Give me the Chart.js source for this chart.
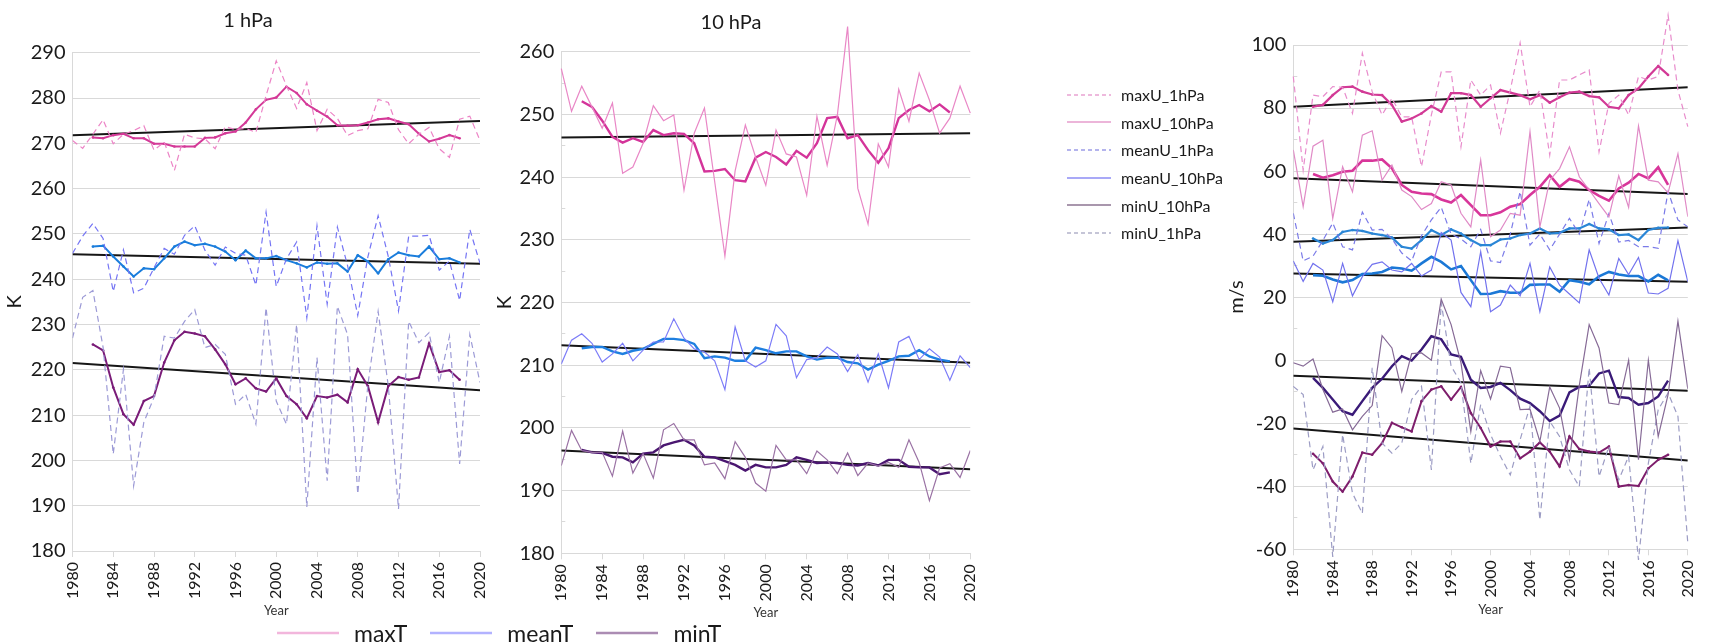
<!DOCTYPE html>
<html>
<head>
<meta charset="utf-8">
<title>Stratospheric temperature and wind, 1980-2020</title>
<script src="https://cdn.jsdelivr.net/npm/chart.js@4.4.1/dist/chart.umd.min.js"></script>
<style>
  html, body { margin: 0; padding: 0; background: #ffffff; }
  #wrap { position: relative; width: 1712px; height: 644px; overflow: hidden; font-family: Lato, 'Open Sans', sans-serif; color: #1a1a1a; }
  #wrap canvas { position: absolute; left: 0; top: 0; }
  .legend { position: absolute; }
  #legendT { left: 277px; top: 619px; display: flex; align-items: center; height: 28px; font-size: 23px; }
  #legendT .item { display: flex; align-items: center; margin-right: 23px; }
  #legendT svg { margin-right: 15px; }
  #legendU { left: 1067px; top: 81px; font-size: 16px; }
  #legendU .item { display: flex; align-items: center; height: 27.6px; }
  #legendU svg { margin-right: 10px; }
</style>
</head>
<body>
<div id="wrap">
  <canvas id="c1" width="1712" height="644"></canvas>
  <canvas id="c2" width="1712" height="644"></canvas>
  <canvas id="c3" width="1712" height="644"></canvas>
  <div id="legendT" class="legend"></div>
  <div id="legendU" class="legend"></div>
</div>
<script>
// ---------- years ----------
const years = [1980, 1981, 1982, 1983, 1984, 1985, 1986, 1987, 1988, 1989,
  1990, 1991, 1992, 1993, 1994, 1995, 1996, 1997, 1998, 1999,
  2000, 2001, 2002, 2003, 2004, 2005, 2006, 2007, 2008, 2009,
  2010, 2011, 2012, 2013, 2014, 2015, 2016, 2017, 2018, 2019, 2020];
// centred 5-year running means cover 1982-2018
const maYears = [1982, 1983, 1984, 1985, 1986, 1987, 1988, 1989,
  1990, 1991, 1992, 1993, 1994, 1995, 1996, 1997, 1998, 1999,
  2000, 2001, 2002, 2003, 2004, 2005, 2006, 2007, 2008, 2009,
  2010, 2011, 2012, 2013, 2014, 2015, 2016, 2017, 2018];
const trendYears = [1980, 2020];

// ---------- 1 hPa temperature (K) ----------
const p1_maxT = [270.6, 268.9, 272.0, 275.2, 269.9, 272.0, 272.8, 273.9, 268.5, 270.3,
  264.0, 272.0, 271.2, 271.0, 268.8, 273.7, 273.0, 273.3, 272.4, 280.5,
  288.2, 282.7, 277.7, 283.4, 272.8, 277.5, 275.5, 271.7, 272.8, 273.2,
  279.7, 279.0, 273.0, 269.9, 272.0, 273.5, 268.8, 266.9, 275.3, 276.0, 270.6];
const p1_maxT_ma = [271.3, 271.1, 271.8, 272.1, 271.1, 271.1, 269.9, 269.9,
  269.3, 269.3, 269.3, 271.2, 271.3, 272.2, 272.6, 274.6, 277.5, 279.6,
  280.1, 282.5, 281.1, 278.6, 277.2, 275.9, 274.0, 273.9, 274.0, 274.6,
  275.3, 275.5, 274.8, 274.2, 272.1, 270.4, 271.0, 271.8, 271.1];
const p1_maxT_trend = [271.8, 274.9];

const p1_meanT = [245.7, 249.5, 252.3, 249.0, 237.3, 246.5, 237.0, 238.0, 242.5, 246.8,
  245.5, 249.7, 251.8, 246.4, 243.1, 247.1, 245.7, 245.3, 238.7, 254.8,
  238.4, 244.5, 248.2, 231.5, 251.8, 234.5, 251.5, 243.0, 232.0, 245.0,
  254.0, 245.0, 233.0, 249.5, 249.5, 249.7, 242.0, 244.0, 235.3, 251.0, 243.5];
const p1_meanT_ma = [247.2, 247.4, 245.0, 242.8, 240.6, 242.4, 242.2, 244.6,
  247.2, 248.3, 247.5, 247.8, 247.2, 246.1, 244.2, 246.3, 244.6, 244.6,
  245.1, 244.2, 243.5, 242.6, 243.7, 243.4, 243.5, 241.7, 245.3, 243.9,
  241.3, 244.4, 245.9, 245.3, 245.0, 247.2, 244.4, 244.6, 243.7];
const p1_meanT_trend = [245.5, 243.4];

const p1_minT = [227.0, 236.0, 237.5, 225.0, 201.4, 220.1, 194.4, 208.4, 213.9, 227.4,
  227.0, 230.7, 233.3, 224.9, 225.6, 223.4, 212.4, 214.6, 208.0, 233.7,
  213.1, 208.0, 230.0, 189.7, 222.7, 195.5, 234.0, 227.8, 192.6, 216.8,
  232.9, 216.4, 189.3, 230.7, 226.0, 228.2, 217.2, 227.4, 199.2, 227.8, 217.2];
const p1_minT_ma = [225.6, 224.3, 216.1, 210.2, 207.9, 213.1, 214.2, 221.6,
  226.5, 228.4, 228.0, 227.4, 224.5, 221.2, 216.8, 218.1, 215.9, 215.2,
  218.1, 214.2, 212.4, 209.3, 214.2, 213.9, 214.5, 212.8, 220.1, 216.4,
  208.4, 216.4, 218.4, 217.8, 218.3, 225.8, 219.5, 219.9, 217.8];
const p1_minT_trend = [221.5, 215.5];

// ---------- 10 hPa temperature (K) ----------
const p2_maxT = [257.3, 250.5, 254.5, 251.2, 247.8, 251.8, 240.6, 241.6, 245.4, 251.4,
  249.0, 249.9, 237.9, 247.0, 251.0, 239.3, 227.4, 241.0, 248.3, 243.2,
  238.7, 247.5, 243.7, 243.2, 237.1, 249.7, 241.9, 249.9, 264.0, 238.2,
  232.5, 245.3, 241.6, 254.0, 248.9, 256.6, 252.3, 247.0, 249.4, 254.5, 250.2];
const p2_maxT_ma = [252.1, 251.2, 249.0, 246.4, 245.5, 246.2, 245.6, 247.5,
  246.7, 247.0, 246.9, 245.4, 240.9, 241.0, 241.3, 239.5, 239.3, 243.1,
  244.0, 243.2, 242.0, 244.2, 243.1, 245.4, 249.4, 249.6, 246.2, 246.7,
  244.3, 242.3, 244.6, 249.4, 250.7, 251.5, 250.5, 251.6, 250.3];
const p2_maxT_trend = [246.3, 247.0];

const p2_meanT = [210.2, 214.0, 215.0, 213.5, 210.5, 211.8, 213.5, 210.7, 212.4, 213.7,
  213.7, 217.4, 214.3, 212.6, 212.1, 210.7, 206.1, 216.1, 210.7, 209.7,
  210.7, 216.5, 214.7, 208.0, 210.9, 211.2, 212.9, 211.8, 209.0, 211.7,
  207.3, 211.8, 206.4, 213.7, 214.6, 210.9, 212.6, 211.3, 207.6, 211.5, 209.6];
const p2_meanT_ma = [212.7, 212.9, 212.9, 212.2, 211.8, 212.3, 212.6, 213.4,
  214.2, 214.2, 214.0, 213.4, 211.1, 211.4, 211.2, 210.7, 210.7, 212.8,
  212.4, 211.9, 212.2, 212.2, 211.4, 210.9, 211.2, 211.2, 210.5, 210.3,
  209.3, 210.1, 210.7, 211.4, 211.5, 212.4, 211.4, 210.9, 210.6];
const p2_meanT_trend = [213.2, 210.4];

const p2_minT = [194.0, 199.6, 196.4, 196.1, 196.1, 192.3, 199.5, 192.8, 195.9, 192.0,
  199.7, 200.7, 198.1, 198.1, 194.1, 194.4, 191.9, 197.8, 195.3, 191.2,
  189.9, 197.2, 194.9, 194.9, 192.7, 196.3, 194.9, 192.7, 196.0, 192.4,
  194.4, 193.9, 194.5, 193.7, 198.1, 194.5, 188.4, 193.6, 194.3, 192.1, 196.4];
const p2_minT_ma = [196.5, 196.1, 196.0, 195.4, 195.3, 194.5, 195.9, 196.1,
  197.2, 197.7, 198.1, 197.2, 195.4, 195.3, 194.7, 194.1, 193.2, 194.1,
  193.7, 193.7, 194.1, 195.3, 194.9, 194.4, 194.5, 194.4, 194.1, 194.0,
  194.4, 194.0, 194.9, 194.9, 193.8, 193.7, 193.7, 192.6, 192.9];
const p2_minT_trend = [196.4, 193.4];

// ---------- zonal wind (m/s) ----------
const maxU_1hPa = [90.0, 60.3, 84.1, 83.6, 86.8, 86.6, 78.3, 97.4, 85.2, 77.8,
  83.1, 77.2, 77.2, 61.4, 77.8, 91.5, 91.5, 67.7, 88.9, 84.1,
  87.3, 72.0, 85.7, 100.7, 80.4, 85.7, 65.1, 88.9, 88.9, 90.5,
  92.1, 66.1, 81.5, 84.1, 77.8, 90.0, 88.9, 90.0, 109.5, 85.7, 74.1];
const maxU_1hPa_ma = [80.4, 81.0, 84.1, 86.6, 86.8, 85.2, 84.3, 84.1,
  81.0, 75.7, 76.7, 78.3, 80.6, 78.8, 84.7, 84.7, 84.1, 80.4,
  83.1, 85.7, 84.9, 84.1, 82.8, 84.1, 81.7, 83.4, 84.9, 85.2,
  83.8, 83.4, 80.4, 79.9, 84.1, 86.2, 90.0, 93.3, 90.5];
const maxU_1hPa_trend = [80.4, 86.6];

const maxU_10hPa = [66.7, 48.7, 67.9, 69.8, 45.0, 61.4, 53.4, 71.4, 72.8, 57.1,
  61.9, 54.0, 51.9, 47.8, 49.7, 56.6, 55.6, 46.6, 42.3, 63.5,
  39.2, 41.3, 46.6, 46.0, 72.5, 42.3, 57.1, 60.8, 67.7, 58.2,
  54.0, 49.7, 45.5, 58.5, 48.5, 74.3, 57.1, 56.6, 53.1, 65.5, 45.5];
const maxU_10hPa_ma = [59.1, 57.9, 58.7, 59.8, 60.1, 63.3, 63.3, 63.7,
  60.9, 55.6, 53.4, 52.9, 52.7, 51.0, 50.0, 52.4, 49.2, 46.0,
  46.0, 46.9, 48.7, 49.5, 52.4, 55.0, 58.7, 55.0, 57.5, 56.6,
  54.0, 52.1, 50.6, 54.5, 56.3, 59.1, 57.7, 61.2, 55.6];
const maxU_10hPa_trend = [57.7, 52.7];

const meanU_1hPa = [46.6, 31.5, 33.0, 38.0, 43.5, 36.0, 35.0, 47.0, 41.3, 41.5,
  38.5, 34.0, 31.5, 39.5, 44.5, 48.5, 40.0, 38.5, 36.0, 41.5,
  31.5, 31.0, 40.0, 53.5, 36.5, 40.0, 35.0, 40.0, 45.0, 40.0,
  51.0, 37.0, 46.5, 37.5, 38.0, 36.0, 36.0, 35.5, 53.5, 44.5, 42.3];
const meanU_1hPa_ma = [38.6, 37.0, 38.1, 40.7, 41.3, 41.0, 40.2, 39.7,
  38.9, 36.0, 35.4, 38.1, 41.3, 39.7, 41.5, 40.2, 38.1, 36.5,
  36.5, 38.3, 38.6, 39.7, 40.2, 41.8, 40.2, 40.4, 41.8, 41.8,
  43.2, 41.8, 41.5, 39.7, 39.9, 38.1, 41.3, 42.0, 42.1];
const meanU_1hPa_trend = [37.6, 42.1];

const meanU_10hPa = [31.5, 25.0, 30.7, 28.6, 18.5, 30.7, 20.4, 26.5, 30.4, 31.2,
  28.6, 28.0, 30.7, 26.7, 28.6, 40.5, 38.1, 21.5, 17.0, 34.4,
  15.4, 17.5, 23.8, 20.4, 30.7, 15.4, 29.6, 23.8, 21.0, 18.2,
  35.0, 26.0, 20.7, 32.3, 27.2, 32.6, 21.3, 21.0, 22.8, 37.9, 24.9];
const meanU_10hPa_ma = [27.0, 26.8, 25.6, 24.7, 25.4, 27.3, 27.5, 28.0,
  29.4, 29.1, 28.4, 30.7, 32.8, 31.2, 28.8, 29.9, 25.4, 21.0,
  21.1, 21.9, 21.4, 21.4, 23.9, 24.0, 24.0, 21.7, 25.4, 24.9,
  24.1, 26.6, 28.0, 27.2, 26.7, 26.7, 25.0, 27.1, 25.3];
const meanU_10hPa_trend = [27.5, 24.9];

const minU_10hPa = [-0.8, -1.9, 0.4, -9.3, -16.5, -15.5, -22.1, -17.8, -14.4, 7.8,
  3.9, -9.9, 2.1, 2.3, 0.0, 19.3, 11.3, -0.8, -22.6, -3.3,
  -12.3, -1.9, -2.4, -15.7, -15.5, -25.8, -8.5, -15.2, -31.6, -8.0,
  11.3, 3.9, -13.6, -14.1, 0.0, -31.6, 0.0, -24.2, -10.9, 12.4, -9.1];
const minU_10hPa_ma = [-5.6, -8.8, -12.5, -16.2, -17.3, -13.0, -8.8, -5.9,
  -1.9, 1.3, -0.1, 3.4, 7.6, 6.6, 1.8, 1.1, -6.2, -8.8,
  -8.5, -7.2, -9.5, -12.2, -13.6, -16.2, -19.3, -17.6, -10.2, -8.5,
  -8.1, -4.2, -3.3, -11.7, -12.0, -14.1, -13.6, -11.5, -6.5];
const minU_10hPa_trend = [-4.9, -9.7];

const minU_1hPa = [-8.3, -10.9, -34.8, -27.4, -62.4, -23.6, -42.2, -48.6, -2.4, -26.3,
  -29.5, -26.3, -12.5, -8.3, -34.8, 18.2, -1.9, -7.2, -32.7, -14.1,
  -23.6, -30.5, -36.4, -25.2, -14.6, -50.7, -19.4, -24.2, -34.8, -40.1,
  -2.4, -36.9, -27.4, -38.0, -30.5, -63.4, -32.7, -15.7, -10.4, -17.8, -58.0];
const minU_1hPa_ma = [-29.7, -32.7, -38.5, -41.7, -36.9, -29.3, -30.0, -26.3,
  -19.9, -21.3, -22.6, -13.0, -9.3, -8.3, -12.5, -8.5, -16.8, -21.5,
  -27.4, -25.8, -25.8, -31.1, -29.0, -26.1, -29.0, -33.7, -24.2, -28.2,
  -29.0, -29.3, -27.4, -40.1, -39.6, -39.9, -34.3, -31.6, -30.0];
const minU_1hPa_trend = [-21.7, -31.8];

// ---------- drawing helpers ----------
const FONT = "Lato, 'Open Sans', sans-serif";
const TREND = '#161616';
const GRID = '#d9d9d9';

const pts = (xs, ys) => xs.map((x, i) => ({ x: x, y: ys[i] }));

function raw(label, values, color, dashed, extra) {
  return Object.assign({
    label: label, data: pts(years, values), borderColor: color, backgroundColor: color,
    borderWidth: 1.2, borderDash: dashed ? [6, 4] : [], pointRadius: 0, tension: 0, fill: false
  }, extra || {});
}
function runMean(label, values, color, dotted, width) {
  return {
    label: label, data: pts(maYears, values), borderColor: color, backgroundColor: color,
    borderWidth: width || 2.2, pointRadius: dotted ? 1.3 : 0, pointBorderWidth: 0,
    pointBackgroundColor: color, tension: 0, fill: false
  };
}
function trend(label, values) {
  return {
    label: label, data: pts(trendYears, values), borderColor: TREND, backgroundColor: TREND,
    borderWidth: 2, pointRadius: 0, tension: 0, fill: false
  };
}

// panel heading drawn above the plot
const headingPlugin = {
  id: 'heading',
  afterDraw(chart, args, opts) {
    if (!opts || !opts.text) return;
    const ctx = chart.ctx;
    ctx.save();
    ctx.font = opts.size + 'px ' + FONT;
    ctx.fillStyle = '#1a1a1a';
    ctx.textAlign = 'center';
    ctx.textBaseline = 'middle';
    ctx.fillText(opts.text, opts.x, opts.y);
    ctx.restore();
  }
};

function panel(id, cfg) {
  const major = cfg.majorStep;
  return new Chart(document.getElementById(id), {
    type: 'line',
    data: { datasets: cfg.datasets },
    options: {
      responsive: false,
      animation: false,
      events: [],
      layout: { padding: cfg.padding },
      plugins: {
        legend: { display: false },
        tooltip: { enabled: false },
        heading: cfg.heading
      },
      scales: {
        x: {
          type: 'linear', min: 1980, max: 2020,
          afterFit: s => { s.height = cfg.xHeight; },
          ticks: {
            stepSize: 4, minRotation: 90, maxRotation: 90, autoSkip: false, padding: 5,
            color: '#1a1a1a', font: { family: FONT, size: 16 },
            callback: v => String(v)
          },
          grid: { drawOnChartArea: false, tickLength: 6, tickColor: GRID },
          border: { color: GRID },
          title: {
            display: true, text: 'Year', color: '#333333',
            font: { family: FONT, size: 13 }, padding: { top: 0, bottom: 4 }
          }
        },
        y: {
          min: cfg.yMin, max: cfg.yMax,
          afterFit: s => { s.width = cfg.yWidth; },
          ticks: {
            stepSize: cfg.minorStep, padding: 11,
            color: '#1a1a1a', font: { family: FONT, size: 20 },
            callback: v => (v % major === 0 ? String(v) : '')
          },
          grid: {
            tickLength: -4,
            color: c => (c.tick && c.tick.value % major === 0 ? GRID : 'rgba(0,0,0,0)'),
            tickColor: c => (c.tick && c.tick.value % major !== 0 ? GRID : 'rgba(0,0,0,0)')
          },
          border: { color: GRID },
          title: {
            display: true, text: cfg.yTitle, color: '#1a1a1a',
            font: { family: FONT, size: 20 }, padding: 3
          }
        }
      }
    },
    plugins: [headingPlugin]
  });
}

// ---------- styles ----------
const C = {
  p1: { maxRaw: '#ec84c6', maxMa: '#d43a98', meanRaw: '#7474f4', meanMa: '#1a7ddc', minRaw: '#9c9ad6', minMa: '#7a1c78' },
  p2: { maxRaw: '#e987c6', maxMa: '#d4349a', meanRaw: '#7c7cf8', meanMa: '#1e7fe0', minRaw: '#9a72a4', minMa: '#4a1670' },
  u: {
    max1: '#e88ccc', max1Ma: '#d23a96', max10: '#e08ac6', max10Ma: '#d8369a',
    mean1: '#7a7ae8', mean1Ma: '#2a86d6', mean10: '#7272ee', mean10Ma: '#1b78d6',
    min10: '#866a96', min10Ma: '#3a1a78', min1: '#9c9cc4', min1Ma: '#7e1e6c'
  }
};

// ---------- 1 hPa ----------
panel('c1', {
  padding: { left: 0, right: 1232, top: 52.7, bottom: 21.2 },
  yWidth: 72.5, xHeight: 71.8,
  yMin: 180, yMax: 290, minorStep: 5, majorStep: 10, yTitle: 'K',
  heading: { text: '1 hPa', x: 248, y: 21, size: 20 },
  datasets: [
    raw('maxT', p1_maxT, C.p1.maxRaw, true),
    raw('meanT', p1_meanT, C.p1.meanRaw, true),
    raw('minT', p1_minT, C.p1.minRaw, true),
    runMean('maxT running mean', p1_maxT_ma, C.p1.maxMa, true, 2),
    runMean('meanT running mean', p1_meanT_ma, C.p1.meanMa, true, 2),
    runMean('minT running mean', p1_minT_ma, C.p1.minMa, true, 2),
    trend('maxT trend', p1_maxT_trend),
    trend('meanT trend', p1_meanT_trend),
    trend('minT trend', p1_minT_trend)
  ]
});

// ---------- 10 hPa ----------
panel('c2', {
  padding: { left: 489.5, right: 741.7, top: 51.7, bottom: 19.2 },
  yWidth: 71.8, xHeight: 71.5,
  yMin: 180, yMax: 260, minorStep: 5, majorStep: 10, yTitle: 'K',
  heading: { text: '10 hPa', x: 731, y: 22.5, size: 20 },
  datasets: [
    raw('maxT', p2_maxT, C.p2.maxRaw, false, { clip: false }),
    raw('meanT', p2_meanT, C.p2.meanRaw, false),
    raw('minT', p2_minT, C.p2.minRaw, false),
    runMean('maxT running mean', p2_maxT_ma, C.p2.maxMa, false, 2.4),
    runMean('meanT running mean', p2_meanT_ma, C.p2.meanMa, false, 2.4),
    runMean('minT running mean', p2_minT_ma, C.p2.minMa, false, 2.4),
    trend('maxT trend', p2_maxT_trend),
    trend('meanT trend', p2_meanT_trend),
    trend('minT trend', p2_minT_trend)
  ]
});

// ---------- zonal wind ----------
const windSets = [
  raw('maxU_1hPa', maxU_1hPa, C.u.max1, true, { clip: false }),
  raw('maxU_10hPa', maxU_10hPa, C.u.max10, false),
  raw('meanU_1hPa', meanU_1hPa, C.u.mean1, true),
  raw('meanU_10hPa', meanU_10hPa, C.u.mean10, false),
  raw('minU_10hPa', minU_10hPa, C.u.min10, false),
  raw('minU_1hPa', minU_1hPa, C.u.min1, true, { clip: false }),
  runMean('maxU_1hPa running mean', maxU_1hPa_ma, C.u.max1Ma, true, 2.2),
  runMean('maxU_10hPa running mean', maxU_10hPa_ma, C.u.max10Ma, false, 2.6),
  runMean('meanU_1hPa running mean', meanU_1hPa_ma, C.u.mean1Ma, true, 2.2),
  runMean('meanU_10hPa running mean', meanU_10hPa_ma, C.u.mean10Ma, false, 2.6),
  runMean('minU_10hPa running mean', minU_10hPa_ma, C.u.min10Ma, false, 2.4),
  runMean('minU_1hPa running mean', minU_1hPa_ma, C.u.min1Ma, true, 2),
  trend('maxU_1hPa trend', maxU_1hPa_trend),
  trend('maxU_10hPa trend', maxU_10hPa_trend),
  trend('meanU_1hPa trend', meanU_1hPa_trend),
  trend('meanU_10hPa trend', meanU_10hPa_trend),
  trend('minU_10hPa trend', minU_10hPa_trend),
  trend('minU_1hPa trend', minU_1hPa_trend)
];
panel('c3', {
  padding: { left: 1222, right: 8, top: 45, bottom: 22.2 },
  yWidth: 71.3, xHeight: 72.5,
  yMin: -60, yMax: 100, minorStep: 10, majorStep: 20, yTitle: 'm/s',
  heading: null,
  datasets: windSets
});

// ---------- legends ----------
function swatch(w, color, width, dash) {
  const ns = 'http://www.w3.org/2000/svg';
  const svg = document.createElementNS(ns, 'svg');
  svg.setAttribute('width', w);
  svg.setAttribute('height', 8);
  const ln = document.createElementNS(ns, 'line');
  ln.setAttribute('x1', 0); ln.setAttribute('x2', w);
  ln.setAttribute('y1', 4); ln.setAttribute('y2', 4);
  ln.setAttribute('stroke', color);
  ln.setAttribute('stroke-width', width);
  if (dash) ln.setAttribute('stroke-dasharray', dash);
  svg.appendChild(ln);
  return svg;
}
function addItem(box, text, svg) {
  const it = document.createElement('div');
  it.className = 'item';
  it.appendChild(svg);
  const t = document.createElement('span');
  t.textContent = text;
  it.appendChild(t);
  box.appendChild(it);
}

const tempLegend = [
  { name: 'maxT', color: '#f2b6dc' },
  { name: 'meanT', color: '#b2b2ff' },
  { name: 'minT', color: '#ab8cb3' }
];
const boxT = document.getElementById('legendT');
tempLegend.forEach(d => addItem(boxT, d.name, swatch(62, d.color, 2.6, null)));

const windLegend = [
  { name: 'maxU_1hPa', color: '#e9a2d2', dash: '4 3' },
  { name: 'maxU_10hPa', color: '#e69ccd', dash: null },
  { name: 'meanU_1hPa', color: '#9c9ce8', dash: '4 3' },
  { name: 'meanU_10hPa', color: '#8c8cf5', dash: null },
  { name: 'minU_10hPa', color: '#8c7492', dash: null },
  { name: 'minU_1hPa', color: '#b2b2ca', dash: '4 3' }
];
const boxU = document.getElementById('legendU');
windLegend.forEach(d => addItem(boxU, d.name, swatch(44, d.color, 1.6, d.dash)));
</script>
</body>
</html>
